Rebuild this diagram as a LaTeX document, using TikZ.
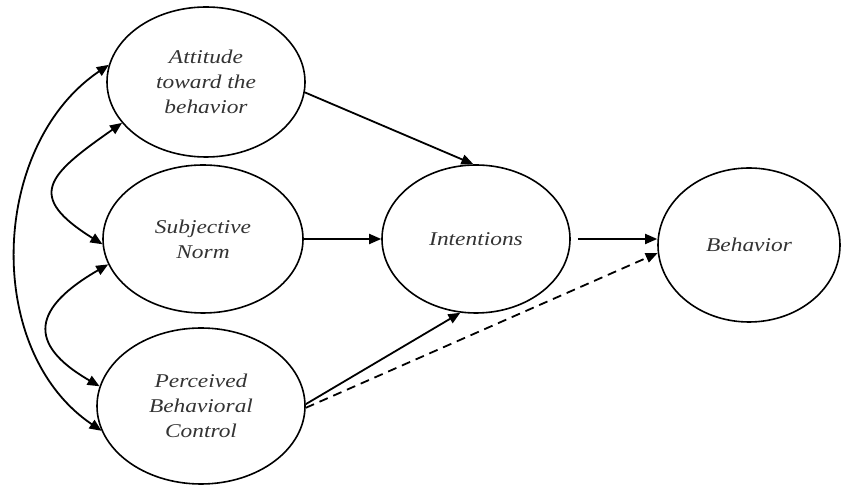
\documentclass[tikz,border=0pt]{standalone}
\usepackage{fontspec}
\usepackage{tikz}
\usetikzlibrary{
	arrows.meta,
	shapes.geometric
}
\newfontfamily\tpbfont[FakeStretch=1.2]{Liberation Serif}

\begin{document}
\begin{tikzpicture}[x=1pt,y=1pt,
		factor/.style={draw=black,ellipse,line width=1.6pt,inner sep=0pt,
			align=center,text=black!80,font=\tpbfont\itshape\fontsize{19.5}{25}\selectfont},
		arr/.style={line width=1.8pt,-{Triangle[length=12pt,width=10pt]}},
		dblarr/.style={line width=1.8pt,{Triangle[length=12pt,width=10pt]}-{Triangle[length=12pt,width=10pt]}}]
		\useasboundingbox (0,0) rectangle (841,487);

		\node[factor,minimum width=198pt,minimum height=150pt] (attitude) at (206,405)
			{Attitude\\toward the\\behavior};
		\node[factor,minimum width=200pt,minimum height=148pt] (norm) at (203,248)
			{Subjective\\Norm};
		\node[factor,minimum width=208pt,minimum height=156pt] (control) at (201,81)
			{Perceived\\Behavioral\\Control};
		\node[factor,minimum width=188pt,minimum height=148pt] (intentions) at (476,248)
			{Intentions};
		\node[factor,minimum width=182pt,minimum height=154pt] (behavior) at (749,242)
			{Behavior};

		\draw[arr] (attitude.-6) -- (intentions.92);
		\draw[arr] (norm.east) -- (intentions.west);
		\draw[arr] (control.1) -- (intentions.258);
		\draw[arr,shorten <=7pt] (intentions.east) -- (behavior.west |- intentions.east);
		\draw[arr,dashed,dash pattern=on 9pt off 6pt] (control.-1) -- (behavior.185);

		% correlations between the antecedents
		\draw[dblarr] (attitude.170) to[out=214,in=146,looseness=1.0] (control.194);
		\draw[dblarr] (attitude.206) to[out=215,in=148,looseness=1.9] (norm.183);
		\draw[dblarr] (norm.195) to[out=210,in=150,looseness=1.8] (control.169);
	\end{tikzpicture}
\end{document}
